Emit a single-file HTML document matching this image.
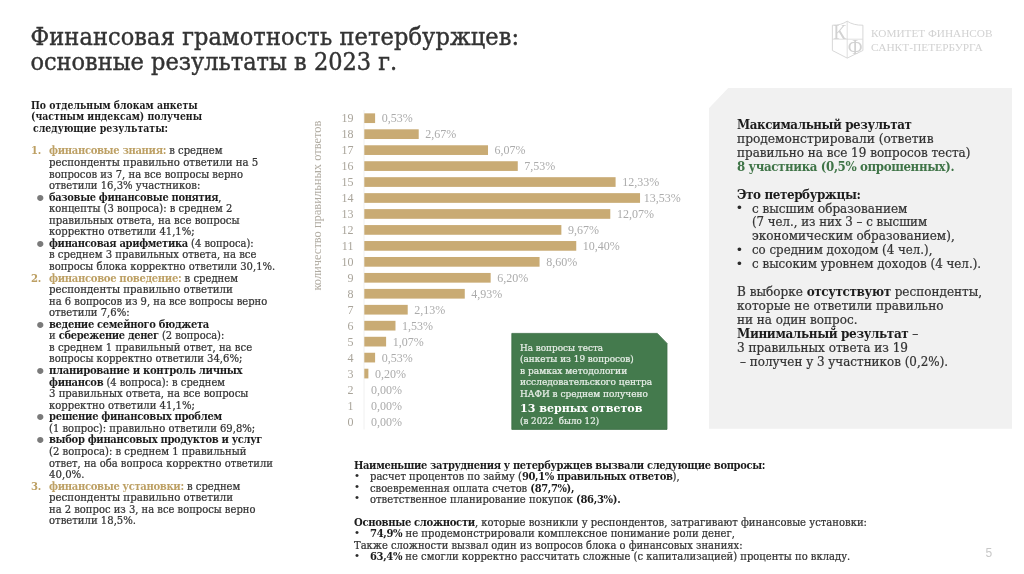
<!DOCTYPE html>
<html lang="ru"><head><meta charset="utf-8"><title>Финансовая грамотность петербуржцев</title>
<style>
html,body{margin:0;padding:0;background:#fff;}
body{width:1024px;height:574px;position:relative;overflow:hidden;font-family:"DejaVu Serif Condensed","DejaVu Serif","Liberation Serif",serif;color:#333;}
.abs{position:absolute;white-space:nowrap;}
.title{left:30.4px;top:23.7px;font-size:25px;line-height:25px;color:#333;-webkit-text-stroke:0.4px #333;}
.ln{position:absolute;white-space:nowrap;line-height:1.2em;transform-origin:0 0;color:#333;-webkit-text-stroke:0.22px;}
.ln b,.ln .g,.ln .gr{font-weight:bold;letter-spacing:-0.03em;-webkit-text-stroke:0;}
.ln b{color:#1c1c1c;}
.hb{font-weight:bold;color:#1c1c1c;-webkit-text-stroke:0;}
.g{color:#bda064;}
.gr{color:#3f7447;}
.gt{color:#e9efe9;}
.gb{font-weight:bold;color:#fff;-webkit-text-stroke:0;}
.pt{color:#333;}
.bl{position:absolute;font-family:"Liberation Sans",sans-serif;line-height:1em;white-space:nowrap;}
svg text{font-family:"Liberation Serif",serif;}
.cat{font-size:12px;fill:#a9a49a;}
.val{font-size:12px;fill:#ababab;}
.ytitle{font-size:13.2px;fill:#b0aba1;}
.panel{left:708.7px;top:88px;width:303.8px;height:340.8px;background:#f1f1f1;clip-path:polygon(19.5px 0,100% 0,100% 100%,0 100%,0 20.5px);}
.logo text{font-family:"Liberation Serif",serif;font-weight:normal;fill:#d2d2d2;}
.pnum{left:985.5px;top:546.4px;font-family:"Liberation Sans",sans-serif;font-size:12px;color:#c8c8c8;}
</style></head><body>
<div class="abs title"><span style="letter-spacing:0.11px">Финансовая грамотность петербуржцев:</span><br>основные результаты в 2023 г.</div>
<div class="abs panel"></div>
<svg class="abs" style="left:0;top:0" width="1024" height="574" viewBox="0 0 1024 574">
<line x1="364.0" y1="110" x2="364.0" y2="429.5" stroke="#f0f0f0" stroke-width="1"/>
<rect x="364.3" y="113.35" width="10.80" height="9.7" fill="#c9ab74"/>
<text x="353.4" y="122.30" text-anchor="end" class="cat">19</text>
<text x="381.70" y="122.30" class="val">0,53%</text>
<rect x="364.3" y="129.31" width="54.41" height="9.7" fill="#c9ab74"/>
<text x="353.4" y="138.26" text-anchor="end" class="cat">18</text>
<text x="425.31" y="138.26" class="val">2,67%</text>
<rect x="364.3" y="145.27" width="123.71" height="9.7" fill="#c9ab74"/>
<text x="353.4" y="154.22" text-anchor="end" class="cat">17</text>
<text x="494.61" y="154.22" class="val">6,07%</text>
<rect x="364.3" y="161.23" width="153.46" height="9.7" fill="#c9ab74"/>
<text x="353.4" y="170.18" text-anchor="end" class="cat">16</text>
<text x="524.36" y="170.18" class="val">7,53%</text>
<rect x="364.3" y="177.19" width="251.29" height="9.7" fill="#c9ab74"/>
<text x="353.4" y="186.14" text-anchor="end" class="cat">15</text>
<text x="622.19" y="186.14" class="val">12,33%</text>
<rect x="364.3" y="193.15" width="275.74" height="9.7" fill="#c9ab74"/>
<text x="353.4" y="202.10" text-anchor="end" class="cat">14</text>
<text x="643.64" y="202.10" class="val">13,53%</text>
<rect x="364.3" y="209.11" width="245.99" height="9.7" fill="#c9ab74"/>
<text x="353.4" y="218.06" text-anchor="end" class="cat">13</text>
<text x="616.89" y="218.06" class="val">12,07%</text>
<rect x="364.3" y="225.07" width="197.07" height="9.7" fill="#c9ab74"/>
<text x="353.4" y="234.02" text-anchor="end" class="cat">12</text>
<text x="567.97" y="234.02" class="val">9,67%</text>
<rect x="364.3" y="241.03" width="211.95" height="9.7" fill="#c9ab74"/>
<text x="353.4" y="249.98" text-anchor="end" class="cat">11</text>
<text x="582.85" y="249.98" class="val">10,40%</text>
<rect x="364.3" y="256.99" width="175.27" height="9.7" fill="#c9ab74"/>
<text x="353.4" y="265.94" text-anchor="end" class="cat">10</text>
<text x="546.17" y="265.94" class="val">8,60%</text>
<rect x="364.3" y="272.95" width="126.36" height="9.7" fill="#c9ab74"/>
<text x="353.4" y="281.90" text-anchor="end" class="cat">9</text>
<text x="497.26" y="281.90" class="val">6,20%</text>
<rect x="364.3" y="288.91" width="100.47" height="9.7" fill="#c9ab74"/>
<text x="353.4" y="297.86" text-anchor="end" class="cat">8</text>
<text x="471.37" y="297.86" class="val">4,93%</text>
<rect x="364.3" y="304.87" width="43.41" height="9.7" fill="#c9ab74"/>
<text x="353.4" y="313.82" text-anchor="end" class="cat">7</text>
<text x="414.31" y="313.82" class="val">2,13%</text>
<rect x="364.3" y="320.83" width="31.18" height="9.7" fill="#c9ab74"/>
<text x="353.4" y="329.78" text-anchor="end" class="cat">6</text>
<text x="402.08" y="329.78" class="val">1,53%</text>
<rect x="364.3" y="336.79" width="21.81" height="9.7" fill="#c9ab74"/>
<text x="353.4" y="345.74" text-anchor="end" class="cat">5</text>
<text x="392.71" y="345.74" class="val">1,07%</text>
<rect x="364.3" y="352.75" width="10.80" height="9.7" fill="#c9ab74"/>
<text x="353.4" y="361.70" text-anchor="end" class="cat">4</text>
<text x="381.70" y="361.70" class="val">0,53%</text>
<rect x="364.3" y="368.71" width="4.08" height="9.7" fill="#c9ab74"/>
<text x="353.4" y="377.66" text-anchor="end" class="cat">3</text>
<text x="374.98" y="377.66" class="val">0,20%</text>
<text x="353.4" y="393.62" text-anchor="end" class="cat">2</text>
<text x="370.90" y="393.62" class="val">0,00%</text>
<text x="353.4" y="409.58" text-anchor="end" class="cat">1</text>
<text x="370.90" y="409.58" class="val">0,00%</text>
<text x="353.4" y="425.54" text-anchor="end" class="cat">0</text>
<text x="370.90" y="425.54" class="val">0,00%</text>
<text transform="translate(321.4,290.6) rotate(-90)" class="ytitle" textLength="170" lengthAdjust="spacingAndGlyphs">количество правильных ответов</text>
<polygon points="511.8,333.4 657.3,333.4 667,343.4 667,429.4 511.8,429.4" fill="#447a4d" stroke="#3d6e46" stroke-width="0.8"/>
</svg>
<div class="ln hb" id="L0" style="left:30.60px;top:99.61px;font-size:10.7px;transform:scaleX(0.9695);">По отдельным блокам анкеты</div>
<div class="ln hb" id="L1" style="left:30.60px;top:111.06px;font-size:10.7px;transform:scaleX(0.9704);">(частным индексам) получены</div>
<div class="ln hb" id="L2" style="left:33.30px;top:122.50px;font-size:10.7px;transform:scaleX(0.9793);">следующие результаты:</div>
<div class="ln lb" id="L3" style="left:49.00px;top:144.41px;font-size:11.2px;transform:scaleX(0.9933);"><span class="g">финансовые знания:</span> в среднем</div>
<div class="ln lb" id="L4" style="left:31.10px;top:144.41px;font-size:11.2px;"><span class="g">1.</span></div>
<div class="ln lb" id="L5" style="left:49.00px;top:155.97px;font-size:11.2px;transform:scaleX(1.0130);">респонденты правильно ответили на 5</div>
<div class="ln lb" id="L6" style="left:49.00px;top:167.54px;font-size:11.2px;transform:scaleX(0.9972);">вопросов из 7, на все вопросы верно</div>
<div class="ln lb" id="L7" style="left:49.00px;top:179.10px;font-size:11.2px;transform:scaleX(0.9982);">ответили 16,3% участников:</div>
<div class="ln lb" id="L8" style="left:49.00px;top:190.65px;font-size:11.2px;transform:scaleX(0.9829);"><b>базовые финансовые понятия</b>,</div>
<div class="ln lb" id="L9" style="left:49.00px;top:202.21px;font-size:11.2px;transform:scaleX(0.9926);">концепты (3 вопроса): в среднем 2</div>
<div class="ln lb" id="L10" style="left:49.00px;top:213.77px;font-size:11.2px;transform:scaleX(1.0078);">правильных ответа, на все вопросы</div>
<div class="ln lb" id="L11" style="left:49.00px;top:225.33px;font-size:11.2px;transform:scaleX(0.9960);">корректно ответили 41,1%;</div>
<div class="ln lb" id="L12" style="left:49.00px;top:236.90px;font-size:11.2px;transform:scaleX(0.9865);"><b>финансовая арифметика</b> (4 вопроса):</div>
<div class="ln lb" id="L13" style="left:49.00px;top:248.46px;font-size:11.2px;transform:scaleX(0.9985);">в среднем 3 правильных ответа, на все</div>
<div class="ln lb" id="L14" style="left:49.00px;top:260.01px;font-size:11.2px;transform:scaleX(0.9931);">вопросы блока корректно ответили 30,1%.</div>
<div class="ln lb" id="L15" style="left:49.00px;top:271.57px;font-size:11.2px;transform:scaleX(0.9972);"><span class="g">финансовое поведение:</span> в среднем</div>
<div class="ln lb" id="L16" style="left:31.10px;top:271.57px;font-size:11.2px;"><span class="g">2.</span></div>
<div class="ln lb" id="L17" style="left:49.00px;top:283.13px;font-size:11.2px;transform:scaleX(1.0154);">респонденты правильно ответили</div>
<div class="ln lb" id="L18" style="left:49.00px;top:294.69px;font-size:11.2px;transform:scaleX(0.9912);">на 6 вопросов из 9, на все вопросы верно</div>
<div class="ln lb" id="L19" style="left:49.00px;top:306.26px;font-size:11.2px;transform:scaleX(0.9978);">ответили 7,6%:</div>
<div class="ln lb" id="L20" style="left:49.00px;top:317.82px;font-size:11.2px;transform:scaleX(0.9898);"><b>ведение семейного бюджета</b></div>
<div class="ln lb" id="L21" style="left:49.00px;top:329.37px;font-size:11.2px;transform:scaleX(0.9838);">и <b>сбережение денег</b> (2 вопроса):</div>
<div class="ln lb" id="L22" style="left:49.00px;top:340.93px;font-size:11.2px;transform:scaleX(1.0017);">в среднем 1 правильный ответ, на все</div>
<div class="ln lb" id="L23" style="left:49.00px;top:352.49px;font-size:11.2px;transform:scaleX(0.9966);">вопросы корректно ответили 34,6%;</div>
<div class="ln lb" id="L24" style="left:49.00px;top:364.05px;font-size:11.2px;transform:scaleX(1.0021);"><b>планирование и контроль личных</b></div>
<div class="ln lb" id="L25" style="left:49.00px;top:375.60px;font-size:11.2px;transform:scaleX(0.9868);"><b>финансов</b> (4 вопроса): в среднем</div>
<div class="ln lb" id="L26" style="left:49.00px;top:387.18px;font-size:11.2px;transform:scaleX(1.0034);">3 правильных ответа, на все вопросы</div>
<div class="ln lb" id="L27" style="left:49.00px;top:398.74px;font-size:11.2px;transform:scaleX(0.9980);">корректно ответили 41,1%;</div>
<div class="ln lb" id="L28" style="left:49.00px;top:410.29px;font-size:11.2px;transform:scaleX(0.9933);"><b>решение финансовых проблем</b></div>
<div class="ln lb" id="L29" style="left:49.00px;top:421.85px;font-size:11.2px;transform:scaleX(0.9955);">(1 вопрос): правильно ответили 69,8%;</div>
<div class="ln lb" id="L30" style="left:49.00px;top:433.41px;font-size:11.2px;transform:scaleX(0.9907);"><b>выбор финансовых продуктов и услуг</b></div>
<div class="ln lb" id="L31" style="left:49.00px;top:444.97px;font-size:11.2px;transform:scaleX(0.9984);">(2 вопроса): в среднем 1 правильный</div>
<div class="ln lb" id="L32" style="left:49.00px;top:456.54px;font-size:11.2px;transform:scaleX(0.9915);">ответ, на оба вопроса корректно ответили</div>
<div class="ln lb" id="L33" style="left:49.00px;top:468.10px;font-size:11.2px;transform:scaleX(1.0093);">40,0%.</div>
<div class="ln lb" id="L34" style="left:49.00px;top:479.65px;font-size:11.2px;transform:scaleX(0.9952);"><span class="g">финансовые установки:</span> в среднем</div>
<div class="ln lb" id="L35" style="left:31.10px;top:479.65px;font-size:11.2px;"><span class="g">3.</span></div>
<div class="ln lb" id="L36" style="left:49.00px;top:491.21px;font-size:11.2px;transform:scaleX(1.0160);">респонденты правильно ответили</div>
<div class="ln lb" id="L37" style="left:49.00px;top:502.77px;font-size:11.2px;transform:scaleX(0.9904);">на 2 вопрос из 3, на все вопросы верно</div>
<div class="ln lb" id="L38" style="left:49.00px;top:514.33px;font-size:11.2px;transform:scaleX(1.0002);">ответили 18,5%.</div>
<div class="ln gt" id="L39" style="left:519.80px;top:341.81px;font-size:9.7px;transform:scaleX(1.0157);">На вопросы теста</div>
<div class="ln gt" id="L40" style="left:519.80px;top:353.21px;font-size:9.7px;transform:scaleX(1.0166);">(анкеты из 19 вопросов)</div>
<div class="ln gt" id="L41" style="left:519.80px;top:364.62px;font-size:9.7px;transform:scaleX(1.0395);">в рамках методологии</div>
<div class="ln gt" id="L42" style="left:519.80px;top:376.01px;font-size:9.7px;transform:scaleX(1.0365);">исследовательского центра</div>
<div class="ln gt" id="L43" style="left:519.80px;top:387.51px;font-size:9.7px;transform:scaleX(1.0252);">НАФИ в среднем получено</div>
<div class="ln gt gb" id="L44" style="left:519.80px;top:401.01px;font-size:11.9px;transform:scaleX(1.0356);">13 верных ответов</div>
<div class="ln gt" id="L45" style="left:519.80px;top:414.81px;font-size:9.7px;transform:scaleX(1.0011);">(в 2022&nbsp; было 12)</div>
<div class="ln pt" id="L46" style="left:737.00px;top:117.05px;font-size:13.3px;transform:scaleX(0.9919);"><b>Максимальный результат</b></div>
<div class="ln pt" id="L47" style="left:737.00px;top:130.97px;font-size:13.3px;transform:scaleX(1.0214);">продемонстрировали (ответив</div>
<div class="ln pt" id="L48" style="left:737.00px;top:144.88px;font-size:13.3px;transform:scaleX(1.0027);">правильно на все 19 вопросов теста)</div>
<div class="ln pt" id="L49" style="left:737.00px;top:158.81px;font-size:13.3px;transform:scaleX(0.9892);"><span class="gr">8 участника (0,5% опрошенных).</span></div>
<div class="ln pt" id="L50" style="left:737.00px;top:186.64px;font-size:13.3px;transform:scaleX(0.9977);"><b>Это петербуржцы:</b></div>
<div class="ln pt" id="L51" style="left:752.40px;top:200.55px;font-size:13.3px;transform:scaleX(1.0041);">с высшим образованием</div>
<div class="ln pt" id="L52" style="left:752.40px;top:214.47px;font-size:13.3px;transform:scaleX(0.9843);">(7 чел., из них 3 – с высшим</div>
<div class="ln pt" id="L53" style="left:752.40px;top:228.38px;font-size:13.3px;transform:scaleX(1.0053);">экономическим образованием),</div>
<div class="ln pt" id="L54" style="left:752.40px;top:242.30px;font-size:13.3px;transform:scaleX(0.9877);">со средним доходом (4 чел.),</div>
<div class="ln pt" id="L55" style="left:752.40px;top:256.21px;font-size:13.3px;transform:scaleX(0.9939);">с высоким уровнем доходов (4 чел.).</div>
<div class="ln pt" id="L56" style="left:737.00px;top:284.04px;font-size:13.3px;transform:scaleX(1.0057);">В выборке <b>отсутствуют</b> респонденты,</div>
<div class="ln pt" id="L57" style="left:737.00px;top:297.95px;font-size:13.3px;transform:scaleX(1.0141);">которые не ответили правильно</div>
<div class="ln pt" id="L58" style="left:737.00px;top:311.87px;font-size:13.3px;transform:scaleX(1.0023);">ни на один вопрос.</div>
<div class="ln pt" id="L59" style="left:737.00px;top:325.78px;font-size:13.3px;transform:scaleX(1.0063);"><b>Минимальный результат</b> –</div>
<div class="ln pt" id="L60" style="left:737.00px;top:339.69px;font-size:13.3px;transform:scaleX(1.0075);">3 правильных ответа из 19</div>
<div class="ln pt" id="L61" style="left:739.60px;top:353.61px;font-size:13.3px;transform:scaleX(0.9973);">– получен у 3 участников (0,2%).</div>
<div class="ln bt" id="L62" style="left:354.40px;top:458.71px;font-size:11.1px;transform:scaleX(0.9924);"><b>Наименьшие затруднения у петербуржцев вызвали следующие вопросы:</b></div>
<div class="ln bt" id="L63" style="left:369.60px;top:470.16px;font-size:11.1px;transform:scaleX(0.9990);">расчет процентов по займу (<b>90,1% правильных ответов</b>),</div>
<div class="ln bt" id="L64" style="left:369.60px;top:481.61px;font-size:11.1px;transform:scaleX(0.9934);">своевременная оплата счетов <b>(87,7%),</b></div>
<div class="ln bt" id="L65" style="left:369.60px;top:493.05px;font-size:11.1px;transform:scaleX(1.0050);">ответственное планирование покупок <b>(86,3%).</b></div>
<div class="ln bt" id="L66" style="left:354.40px;top:515.96px;font-size:11.1px;transform:scaleX(1.0049);"><b>Основные сложности</b>, которые возникли у респондентов, затрагивают финансовые установки:</div>
<div class="ln bt" id="L67" style="left:369.60px;top:527.41px;font-size:11.1px;transform:scaleX(1.0058);"><b>74,9%</b> не продемонстрировали комплексное понимание роли денег,</div>
<div class="ln bt" id="L68" style="left:354.40px;top:538.86px;font-size:11.1px;transform:scaleX(0.9961);">Также сложности вызвал один из вопросов блока о финансовых знаниях:</div>
<div class="ln bt" id="L69" style="left:369.60px;top:550.30px;font-size:11.1px;transform:scaleX(1.0005);"><b>63,4%</b> не смогли корректно рассчитать сложные (с капитализацией) проценты по вкладу.</div>
<span class="bl" style="left:36.18px;top:185.51px;font-size:22.96px;color:#7a7a7a">•</span><span class="bl" style="left:36.18px;top:231.75px;font-size:22.96px;color:#7a7a7a">•</span><span class="bl" style="left:36.18px;top:312.67px;font-size:22.96px;color:#7a7a7a">•</span><span class="bl" style="left:36.18px;top:358.91px;font-size:22.96px;color:#7a7a7a">•</span><span class="bl" style="left:36.18px;top:405.15px;font-size:22.96px;color:#7a7a7a">•</span><span class="bl" style="left:36.18px;top:428.27px;font-size:22.96px;color:#7a7a7a">•</span><span class="bl" style="left:737.10px;top:200.98px;font-size:13.70px;color:#2a2a2a">•</span><span class="bl" style="left:737.10px;top:242.73px;font-size:13.70px;color:#2a2a2a">•</span><span class="bl" style="left:737.10px;top:256.64px;font-size:13.70px;color:#2a2a2a">•</span><span class="bl" style="left:354.89px;top:469.54px;font-size:11.48px;color:#2a2a2a">•</span><span class="bl" style="left:354.89px;top:480.99px;font-size:11.48px;color:#2a2a2a">•</span><span class="bl" style="left:354.89px;top:492.44px;font-size:11.48px;color:#2a2a2a">•</span><span class="bl" style="left:354.89px;top:526.79px;font-size:11.48px;color:#2a2a2a">•</span><span class="bl" style="left:354.89px;top:549.69px;font-size:11.48px;color:#2a2a2a">•</span>
<svg class="abs logo" style="left:0;top:0" width="1024" height="574" viewBox="0 0 1024 574">
<path d="M832.4 25.2 Q841 25.4 847.2 21.2 Q853.4 25.4 862.9 25.2 L862.9 50.5 L847.2 58.1 L832.4 50.5 Z" fill="none" stroke="#d4d4d4" stroke-width="0.9"/>
<line x1="847.2" y1="21.2" x2="847.2" y2="58.1" stroke="#d8d8d8" stroke-width="0.8"/>
<line x1="832.4" y1="39.2" x2="862.9" y2="39.2" stroke="#d8d8d8" stroke-width="0.8"/>
<text x="833.2" y="38.8" font-size="20.5" textLength="13" lengthAdjust="spacingAndGlyphs">К</text>
<text x="847.8" y="53.8" font-size="20" textLength="14.8" lengthAdjust="spacingAndGlyphs">Ф</text>
<text x="871.1" y="37.4" font-size="11" textLength="121.4" lengthAdjust="spacingAndGlyphs">КОМИТЕТ ФИНАНСОВ</text>
<text x="871.1" y="50.8" font-size="11" textLength="111.6" lengthAdjust="spacingAndGlyphs">САНКТ-ПЕТЕРБУРГА</text>
</svg>
<div class="abs pnum">5</div>
</body></html>
